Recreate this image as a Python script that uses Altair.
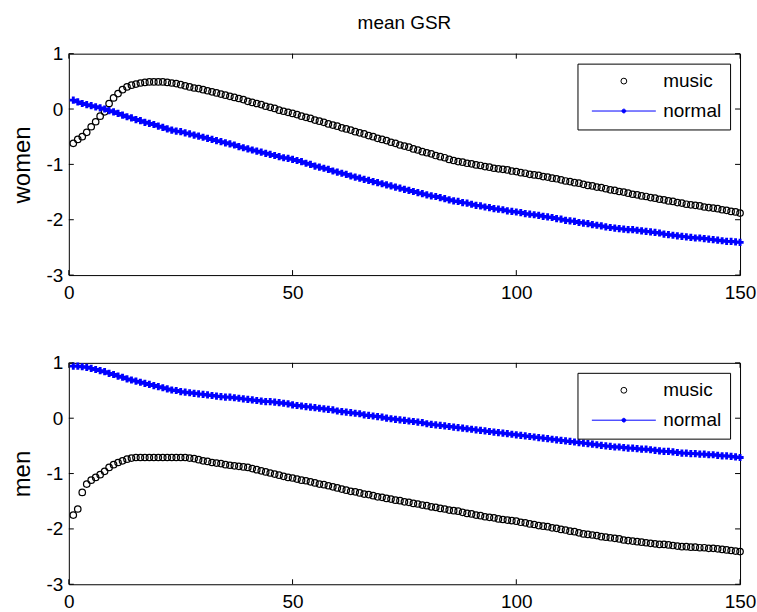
import altair as alt
import pandas as pd

# ---------------- data ----------------
x_vals = list(range(1, 151))
series_names = ["music", "normal"]
x_ticks = [0, 50, 100, 150]
y_ticks = [-3, -2, -1, 0, 1]

women_music = [
    -0.62, -0.55, -0.50, -0.42, -0.32, -0.23, -0.13, -0.05, 0.10, 0.20,
    0.28, 0.35, 0.40, 0.43, 0.45, 0.47, 0.48, 0.49, 0.49, 0.49,
    0.49, 0.48, 0.47, 0.46, 0.44, 0.42, 0.40, 0.38, 0.37, 0.35,
    0.33, 0.31, 0.29, 0.27, 0.25, 0.23, 0.21, 0.19, 0.17, 0.14,
    0.12, 0.10, 0.08, 0.05, 0.03, 0.01, -0.02, -0.04, -0.06, -0.08,
    -0.10, -0.13, -0.15, -0.17, -0.20, -0.22, -0.24, -0.27, -0.29, -0.31,
    -0.34, -0.36, -0.38, -0.41, -0.43, -0.45, -0.48, -0.50, -0.53, -0.55,
    -0.57, -0.60, -0.62, -0.65, -0.67, -0.69, -0.72, -0.74, -0.77, -0.79,
    -0.81, -0.84, -0.86, -0.88, -0.91, -0.93, -0.95, -0.96, -0.98, -0.99,
    -1.01, -1.02, -1.04, -1.05, -1.07, -1.08, -1.09, -1.10, -1.12, -1.13,
    -1.15, -1.16, -1.18, -1.19, -1.20, -1.22, -1.23, -1.25, -1.26, -1.28,
    -1.30, -1.31, -1.33, -1.34, -1.36, -1.38, -1.39, -1.41, -1.42, -1.44,
    -1.46, -1.47, -1.49, -1.50, -1.52, -1.54, -1.55, -1.57, -1.58, -1.60,
    -1.61, -1.63, -1.64, -1.66, -1.67, -1.69, -1.70, -1.72, -1.73, -1.74,
    -1.75, -1.77, -1.78, -1.79, -1.80, -1.82, -1.83, -1.85, -1.86, -1.88,
]

women_normal = [
    0.16, 0.13, 0.10, 0.08, 0.06, 0.04, 0.02, 0.00, -0.03, -0.05,
    -0.08, -0.11, -0.14, -0.16, -0.19, -0.21, -0.24, -0.26, -0.28, -0.31,
    -0.33, -0.36, -0.38, -0.40, -0.41, -0.43, -0.45, -0.47, -0.49, -0.51,
    -0.53, -0.55, -0.57, -0.59, -0.61, -0.63, -0.65, -0.68, -0.70, -0.72,
    -0.74, -0.76, -0.78, -0.80, -0.82, -0.84, -0.86, -0.88, -0.89, -0.91,
    -0.93, -0.95, -0.98, -1.00, -1.03, -1.05, -1.07, -1.09, -1.12, -1.14,
    -1.16, -1.18, -1.21, -1.23, -1.25, -1.27, -1.29, -1.31, -1.33, -1.35,
    -1.37, -1.39, -1.41, -1.43, -1.45, -1.47, -1.49, -1.51, -1.53, -1.55,
    -1.57, -1.58, -1.60, -1.62, -1.64, -1.66, -1.67, -1.69, -1.70, -1.72,
    -1.74, -1.75, -1.77, -1.78, -1.80, -1.81, -1.82, -1.84, -1.85, -1.86,
    -1.87, -1.89, -1.90, -1.91, -1.92, -1.94, -1.95, -1.96, -1.98, -1.99,
    -2.01, -2.02, -2.03, -2.05, -2.06, -2.07, -2.09, -2.10, -2.11, -2.13,
    -2.14, -2.15, -2.16, -2.17, -2.18, -2.18, -2.19, -2.20, -2.21, -2.22,
    -2.23, -2.24, -2.26, -2.27, -2.28, -2.29, -2.30, -2.31, -2.32, -2.33,
    -2.33, -2.34, -2.35, -2.36, -2.37, -2.38, -2.39, -2.39, -2.40, -2.41,
]

men_music = [
    -1.75, -1.64, -1.34, -1.19, -1.12, -1.07, -1.02, -0.96, -0.89, -0.84,
    -0.80, -0.77, -0.74, -0.72, -0.71, -0.71, -0.71, -0.71, -0.71, -0.71,
    -0.71, -0.71, -0.71, -0.71, -0.71, -0.71, -0.72, -0.73, -0.75, -0.77,
    -0.78, -0.80, -0.81, -0.82, -0.84, -0.85, -0.86, -0.87, -0.88, -0.89,
    -0.91, -0.93, -0.95, -0.97, -0.99, -1.01, -1.03, -1.05, -1.07, -1.08,
    -1.10, -1.12, -1.13, -1.15, -1.17, -1.19, -1.20, -1.22, -1.24, -1.26,
    -1.28, -1.30, -1.32, -1.33, -1.35, -1.37, -1.38, -1.40, -1.42, -1.43,
    -1.45, -1.46, -1.48, -1.49, -1.51, -1.52, -1.54, -1.55, -1.57, -1.58,
    -1.60, -1.61, -1.63, -1.64, -1.66, -1.67, -1.68, -1.70, -1.72, -1.73,
    -1.75, -1.76, -1.78, -1.79, -1.80, -1.82, -1.83, -1.84, -1.85, -1.86,
    -1.88, -1.89, -1.91, -1.92, -1.94, -1.95, -1.96, -1.98, -1.99, -2.01,
    -2.02, -2.04, -2.05, -2.07, -2.09, -2.10, -2.11, -2.12, -2.14, -2.15,
    -2.16, -2.17, -2.18, -2.20, -2.21, -2.22, -2.23, -2.24, -2.25, -2.26,
    -2.27, -2.28, -2.28, -2.29, -2.30, -2.31, -2.32, -2.32, -2.33, -2.33,
    -2.34, -2.34, -2.35, -2.35, -2.36, -2.37, -2.38, -2.39, -2.40, -2.41,
]

men_normal = [
    0.94, 0.94, 0.93, 0.92, 0.90, 0.88, 0.86, 0.84, 0.81, 0.79,
    0.76, 0.74, 0.71, 0.69, 0.67, 0.65, 0.63, 0.61, 0.59, 0.57,
    0.55, 0.53, 0.51, 0.50, 0.48, 0.47, 0.46, 0.45, 0.44, 0.43,
    0.42, 0.41, 0.40, 0.39, 0.38, 0.38, 0.37, 0.36, 0.35, 0.34,
    0.33, 0.32, 0.31, 0.30, 0.30, 0.29, 0.28, 0.27, 0.26, 0.24,
    0.23, 0.22, 0.21, 0.20, 0.19, 0.18, 0.17, 0.16, 0.15, 0.13,
    0.12, 0.11, 0.10, 0.09, 0.08, 0.06, 0.05, 0.04, 0.03, 0.02,
    0.00, -0.01, -0.02, -0.03, -0.04, -0.05, -0.06, -0.07, -0.08, -0.10,
    -0.11, -0.12, -0.13, -0.14, -0.15, -0.16, -0.17, -0.18, -0.19, -0.20,
    -0.21, -0.22, -0.23, -0.24, -0.25, -0.26, -0.27, -0.28, -0.29, -0.30,
    -0.31, -0.32, -0.33, -0.34, -0.35, -0.36, -0.37, -0.38, -0.39, -0.40,
    -0.41, -0.42, -0.43, -0.44, -0.45, -0.46, -0.47, -0.48, -0.49, -0.50,
    -0.51, -0.52, -0.52, -0.53, -0.54, -0.54, -0.55, -0.56, -0.56, -0.57,
    -0.58, -0.59, -0.60, -0.60, -0.61, -0.62, -0.63, -0.63, -0.64, -0.64,
    -0.65, -0.65, -0.66, -0.66, -0.67, -0.68, -0.68, -0.69, -0.70, -0.71,
]

# ---------------- style ----------------
W, H = 673, 222
BLUE = "#0000ff"
FONT = "Liberation Sans"
SYM_SIZE = 34
# line with a dot, about 64 px wide at SYM_SIZE (path units scale by sqrt(size)/2)
NORMAL_SYMBOL = "M-11,0H11M-0.65,0A0.65,0.65,0,1,1,0.65,0A0.65,0.65,0,1,1,-0.65,0Z"
TICK = 5


def panel(music, normal, ylabel, title=None):
    dm = pd.DataFrame({"t": x_vals, "v": music, "series": "music"})
    dn = pd.DataFrame({"t": x_vals, "v": normal, "series": "normal"})
    xt = pd.DataFrame({"t": x_ticks})
    yt = pd.DataFrame({"v": y_ticks})

    xs = alt.Scale(domain=[0, 150], nice=False, zero=False)
    ys = alt.Scale(domain=[-3, 1], nice=False, zero=False)
    xax = alt.Axis(values=x_ticks, title=None, labelFlush=False, labelOverlap=False,
                   labelPadding=8, labelExpr="toString(datum.value)")
    yax = alt.Axis(values=y_ticks, title=ylabel, labelFlush=False, labelOverlap=False,
                   labelPadding=6, titlePadding=12, labelExpr="toString(datum.value)")
    X = alt.X("t:Q", scale=xs, axis=xax)
    Y = alt.Y("v:Q", scale=ys, axis=yax)

    leg = alt.Legend(title=None)
    music_layer = alt.Chart(dm).mark_point(strokeWidth=1.25, opacity=1, size=42).encode(
        x=X, y=Y,
        stroke=alt.Stroke("series:N", scale=alt.Scale(domain=series_names, range=["black", BLUE]), legend=leg),
        fill=alt.Fill("series:N", scale=alt.Scale(domain=series_names, range=["transparent", BLUE]), legend=leg),
        shape=alt.Shape("series:N", scale=alt.Scale(domain=series_names, range=["circle", NORMAL_SYMBOL]), legend=leg),
    )
    normal_line = alt.Chart(dn).mark_line(color=BLUE, strokeWidth=1.5).encode(x=X, y=Y)
    normal_pts = alt.Chart(dn).mark_point(shape="cross", filled=True, color=BLUE, size=52, opacity=1).encode(x=X, y=Y)

    tick_bottom = alt.Chart(xt).mark_rule(color="black").encode(x=X, y=alt.value(H), y2=alt.value(H - TICK))
    tick_top = alt.Chart(xt).mark_rule(color="black").encode(x=X, y=alt.value(0), y2=alt.value(TICK))
    tick_left = alt.Chart(yt).mark_rule(color="black").encode(y=Y, x=alt.value(0), x2=alt.value(TICK))
    tick_right = alt.Chart(yt).mark_rule(color="black").encode(y=Y, x=alt.value(W), x2=alt.value(W - TICK))

    layer = alt.layer(music_layer, normal_line, normal_pts,
                      tick_bottom, tick_top, tick_left, tick_right)
    if title:
        layer = layer.properties(title=alt.TitleParams(title, anchor="middle", frame="group",
                                                       offset=12, fontSize=19, font=FONT,
                                                       fontWeight="normal", color="black"))
    return layer.properties(width=W, height=H)


top = panel(women_music, women_normal, "women", "mean GSR")
bottom = panel(men_music, men_normal, "men")

chart = (
    alt.vconcat(top, bottom, spacing=50)
    .resolve_scale(stroke="independent", fill="independent", shape="independent")
    .resolve_legend(stroke="independent", fill="independent", shape="independent")
    .properties(padding={"left": 9, "top": 12, "right": 0, "bottom": 0}, background="white")
    .configure_view(stroke="black", strokeWidth=1)
    .configure_axis(domain=False, grid=False, tickSize=0, labelFont=FONT, labelFontSize=19,
                    labelColor="black", titleFont=FONT, titleFontSize=24, titleFontWeight="normal",
                    titleColor="black")
    .configure_legend(orient="top-right", offset=10, strokeColor="black", fillColor="white",
                      padding=8, rowPadding=10, labelFont=FONT, labelFontSize=19, labelColor="black",
                      symbolSize=SYM_SIZE, symbolOffset=29, labelOffset=30,
                      symbolStrokeWidth=1, cornerRadius=0)
)

chart.save("out.html", embed_options={"renderer": "svg", "actions": False})
